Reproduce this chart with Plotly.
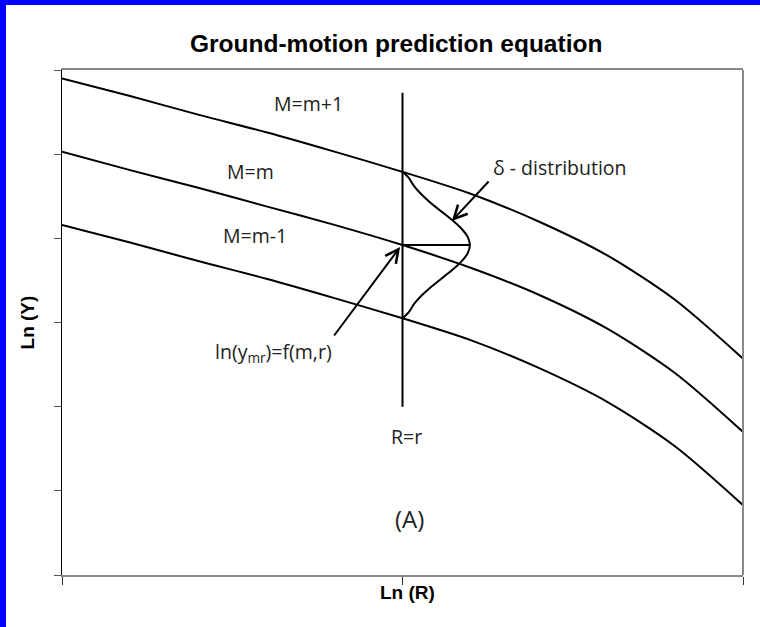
import plotly.graph_objects as go

# Distance samples along Ln(R)
ln_r = [0.0, 0.2, 0.4, 0.6, 0.8, 1.0, 1.2, 1.4, 1.6, 1.8, 2.0]

# Ln(Y) for the three magnitude curves
ln_y_m_plus = [5.90, 5.69, 5.47, 5.26, 5.03, 4.79, 4.53, 4.20, 3.80, 3.27, 2.57]
ln_y_m = [5.03, 4.81, 4.60, 4.38, 4.16, 3.92, 3.65, 3.33, 2.93, 2.40, 1.70]
ln_y_m_minus = [4.16, 3.95, 3.73, 3.52, 3.29, 3.05, 2.79, 2.46, 2.06, 1.53, 0.83]

# Site distance R = r and the vertical marker extent
r_site = 1.0
r_line_y = [2.00, 5.73]

# Scatter (delta) distribution about the median at R = r
delta_dy = [-0.87, -0.8, -0.7, -0.6, -0.5, -0.4, -0.3, -0.2, -0.1, 0.0,
            0.1, 0.2, 0.3, 0.4, 0.5, 0.6, 0.7, 0.8, 0.87]
delta_width = [0.0, 0.018, 0.034, 0.056, 0.083, 0.114, 0.145, 0.172, 0.191, 0.198,
               0.191, 0.172, 0.145, 0.114, 0.083, 0.056, 0.034, 0.018, 0.0]
median_at_r = 3.92

curve_labels = ["M=m+1", "M=m", "M=m-1"]
label_pos = [(0.725, 5.60), (0.555, 4.79), (0.567, 4.03)]

fig = go.Figure()

line_style = dict(color="black", width=2)
for ys in (ln_y_m_plus, ln_y_m, ln_y_m_minus):
    fig.add_trace(go.Scatter(x=ln_r, y=ys, mode="lines", line=dict(shape="spline", smoothing=0.8, **line_style),
                             hoverinfo="skip", showlegend=False))

# vertical line at R = r
fig.add_trace(go.Scatter(x=[r_site, r_site], y=r_line_y, mode="lines", line=line_style,
                         hoverinfo="skip", showlegend=False))

# distribution curve and its peak marker
fig.add_trace(go.Scatter(x=[r_site + w for w in delta_width],
                         y=[median_at_r + d for d in delta_dy],
                         mode="lines", line=dict(shape="spline", smoothing=0.6, color="black", width=2),
                         hoverinfo="skip", showlegend=False))
fig.add_trace(go.Scatter(x=[r_site, r_site + max(delta_width)], y=[median_at_r, median_at_r],
                         mode="lines", line=line_style, hoverinfo="skip", showlegend=False))

label_font = dict(family="Open Sans, Noto Sans, sans-serif", size=19.5, color="#222")
bold_font = dict(family="Liberation Sans, Arial, sans-serif", size=19, color="black")

annotations = []
for txt, (lx, ly) in zip(curve_labels, label_pos):
    annotations.append(dict(x=lx, y=ly, xref="x", yref="y", text=txt, showarrow=False, font=label_font,
                            xanchor="center", yanchor="middle"))

annotations += [
    dict(x=1.463, y=4.836, xref="x", yref="y", text="δ - distribution", showarrow=False, font=label_font,
         xanchor="center", yanchor="middle"),
    dict(x=0.620, y=2.64, xref="x", yref="y", text="ln(y<sub>mr</sub>)=f(m,r)", showarrow=False,
         font=label_font, xanchor="center", yanchor="middle"),
    dict(x=1.013, y=1.64, xref="x", yref="y", text="R=r", showarrow=False, font=label_font,
         xanchor="center", yanchor="middle"),
    dict(x=1.02, y=0.67, xref="x", yref="y", text="(A)", showarrow=False, xanchor="center", yanchor="middle",
         font=dict(family="Open Sans, Noto Sans, sans-serif", size=24, color="#222")),
    # arrows
    dict(x=1.145, y=4.206, ax=1.257, ay=4.693, xref="x", yref="y", axref="x", ayref="y",
         text="", showarrow=True, arrowhead=5, arrowsize=1.3, arrowwidth=2, arrowcolor="black"),
    dict(x=0.993, y=3.897, ax=0.796, ay=2.828, xref="x", yref="y", axref="x", ayref="y",
         text="", showarrow=True, arrowhead=5, arrowsize=1.3, arrowwidth=2, arrowcolor="black"),
    # title and axis titles
    dict(x=0.490, y=1.053, xref="paper", yref="paper", text="<b>Ground-motion prediction equation</b>",
         showarrow=False, xanchor="center", yanchor="middle",
         font=dict(family="Liberation Sans, Arial, sans-serif", size=24.5, color="black")),
    dict(x=-0.050, y=0.50, xref="paper", yref="paper", text="<b>Ln (Y)</b>", textangle=-90,
         showarrow=False, xanchor="center", yanchor="middle", font=bold_font),
    dict(x=0.507, y=-0.034, xref="paper", yref="paper", text="<b>Ln (R)</b>",
         showarrow=False, xanchor="center", yanchor="middle", font=bold_font),
]

shapes = [
    # right edge of the plot frame
    dict(type="line", xref="paper", yref="paper", x0=1, x1=1, y0=0, y1=1,
         line=dict(color="#888", width=2)),
    # blue frame around the figure
    dict(type="rect", xref="paper", yref="paper", x0=-0.0911, x1=-0.0822, y0=-0.11, y1=1.14,
         fillcolor="#0000ff", line=dict(width=0)),
    dict(type="rect", xref="paper", yref="paper", x0=-0.0911, x1=1.03, y0=1.1287, y1=1.14,
         fillcolor="#0000ff", line=dict(width=0)),
]

fig.update_layout(
    width=760, height=627,
    margin=dict(l=62, r=17, t=70, b=52),
    paper_bgcolor="white", plot_bgcolor="white",
    annotations=annotations, shapes=shapes,
    xaxis=dict(range=[0, 2], tickvals=[0, 1, 2], showticklabels=False, ticks="outside", ticklen=8,
               tickcolor="#333", showgrid=False, zeroline=False, showline=True, linecolor="#888",
               linewidth=2, mirror=True, fixedrange=True),
    yaxis=dict(range=[0, 6], tickvals=[0, 1, 2, 3, 4, 5, 6], showticklabels=False, ticks="outside",
               ticklen=7, tickcolor="#555", showgrid=False, zeroline=False, showline=True,
               linecolor="black", linewidth=1, fixedrange=True),
)

fig.write_html("out.html")
